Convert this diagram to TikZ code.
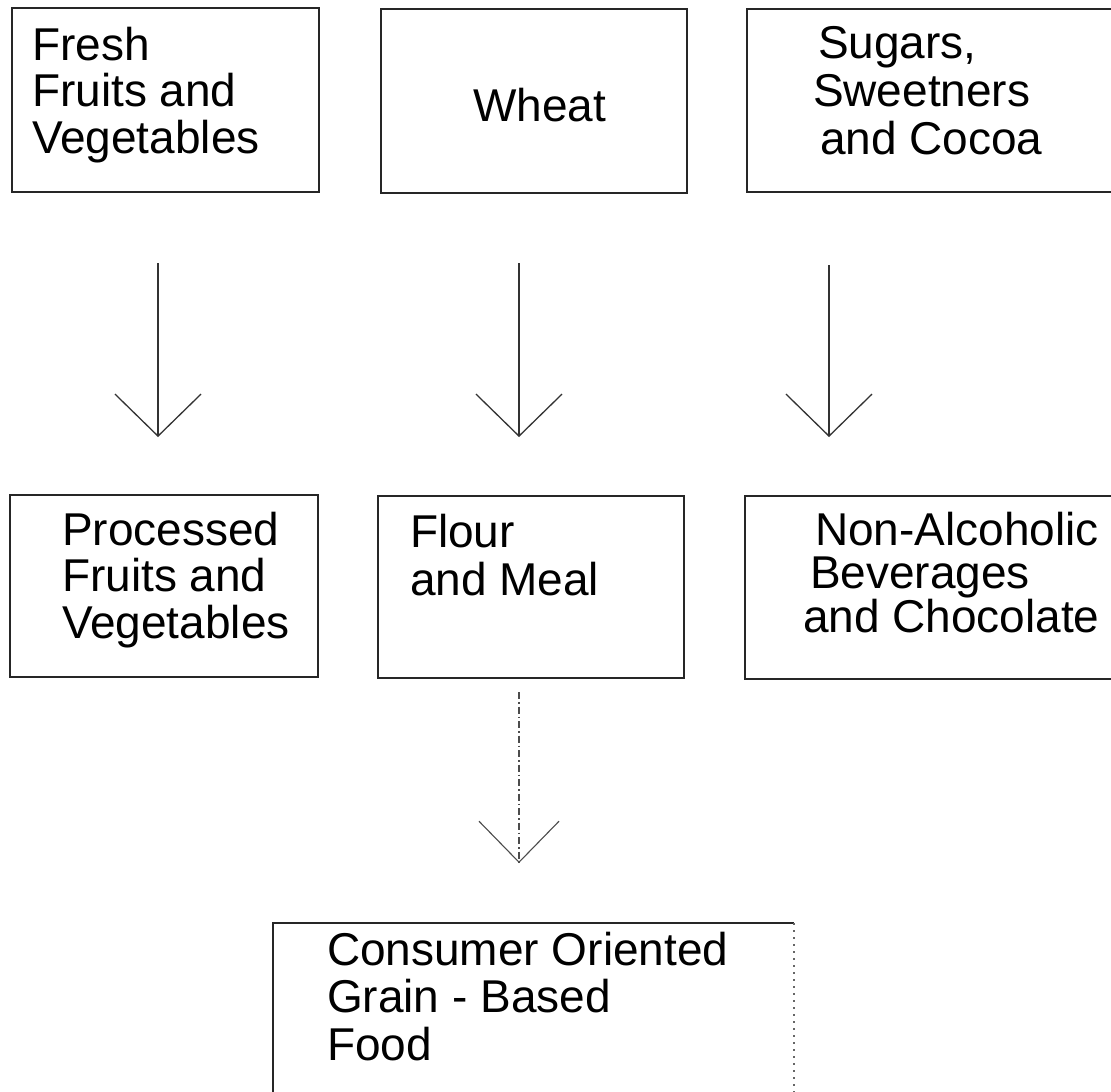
\documentclass[tikz,border=0pt]{standalone}
\usepackage{fontspec}
\setmainfont{Liberation Sans}
\usetikzlibrary{arrows.meta}
\begin{document}
\begin{tikzpicture}[x=1pt,y=-1pt,
  box/.style={draw=black!85, line width=1.4pt, inner sep=0pt, outer sep=0pt},
  txt/.style={anchor=north west, inner sep=0pt, outer sep=0pt, align=left,
    font=\fontsize{46}{46.5}\selectfont},
  arr/.style={draw=black!80, line width=1.3pt,
    -{Straight Barb[length=42pt,width=86pt,line width=1.3pt]}},
  faintarr/.style={draw=black!70, line width=1.2pt,
    dash pattern=on 7pt off 3pt on 1.5pt off 3pt,
    -{Straight Barb[length=41pt,width=80pt,line width=1.1pt]}}]
\useasboundingbox (0,0) rectangle (1111,1092);
\clip (0,0) rectangle (1111,1092);
\fill[white] (0,0) rectangle (1111,1092);

% top row
\node[box, minimum width=307pt, minimum height=184pt] (b1) at (165.5,100) {};
\node[box, minimum width=306pt, minimum height=184pt] (b2) at (534,101) {};
\node[box, minimum width=378pt, minimum height=183pt] (b3) at (936,100.5) {};
% middle row
\node[box, minimum width=308pt, minimum height=182pt] (b4) at (164,586) {};
\node[box, minimum width=306pt, minimum height=182pt] (b5) at (531,587) {};
\node[box, minimum width=380pt, minimum height=183pt] (b6) at (935,587.5) {};
% bottom box (right edge faint/dotted, bottom edge outside the page)
\node[inner sep=0pt, outer sep=0pt, minimum width=521pt, minimum height=187pt] (b7) at (533.5,1016.5) {};
\draw[black!85, line width=1.4pt] (b7.south west) -- (b7.north west) -- (b7.north east);
\draw[black!60, line width=1.2pt, dash pattern=on 2pt off 5pt] (b7.north east) -- (b7.south east);

% texts
\node[txt] (t1) at (32,27) {Fresh\\Fruits and\\Vegetables};
\node[txt] (t2) at (473,88) {Wheat};
\node[txt, font=\fontsize{46}{48}\selectfont] (t3) at (813,26)
  {\hspace*{5pt}Sugars,\\Sweetners\\\hspace*{7pt}and Cocoa};
\node[txt] (t4) at (62,512) {Processed\\Fruits and\\Vegetables};
\node[txt, font=\fontsize{46}{48}\selectfont] (t5) at (410,514) {Flour\\and Meal};
\node[txt, font=\fontsize{46}{43.5}\selectfont] (t6) at (803,512)
  {\hspace*{12pt}Non-Alcoholic\\\hspace*{7pt}Beverages\\and Chocolate};
\node[txt, font=\fontsize{46}{47.5}\selectfont] (t7) at (327,932)
  {Consumer Oriented\\Grain - Based\\Food};

% connectors
\draw[arr] ([xshift=-7.5pt,yshift=-71pt]b1.south) -- ([xshift=-6pt,yshift=58pt]b4.north);
\draw[arr] ([xshift=-15pt,yshift=-70pt]b2.south) -- ([xshift=-12pt,yshift=59pt]b5.north);
\draw[arr] ([xshift=-107pt,yshift=-73pt]b3.south) -- ([xshift=-106pt,yshift=59pt]b6.north);
\draw[faintarr] ([xshift=-12pt,yshift=-14pt]b5.south) -- ([xshift=-14.5pt,yshift=60pt]b7.north);
\end{tikzpicture}
\end{document}
